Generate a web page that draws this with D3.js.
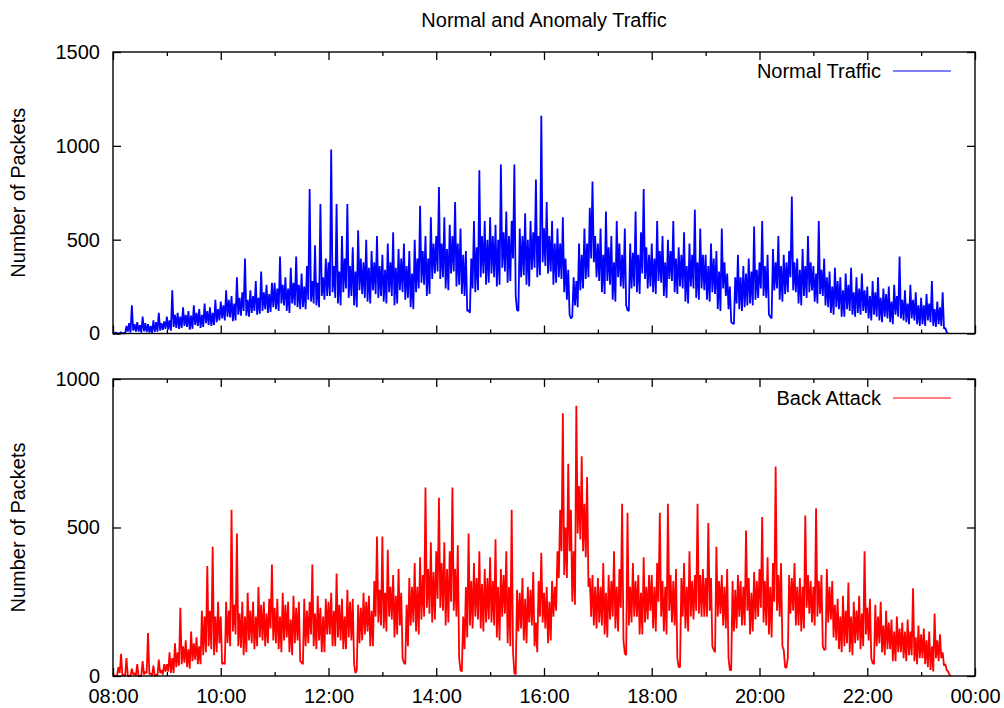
<!DOCTYPE html>
<html>
<head>
<meta charset="utf-8">
<script src="https://cdn.jsdelivr.net/npm/d3@7"></script>
<style>
body { margin: 0; background: #fff; }
text { font-family: "Liberation Sans", Arial, Helvetica, sans-serif; }
</style>
</head>
<body>
<script>
// samples every 3 minutes from 08:00, plus an in-between trough 1.5 min later
var startTime = "08:00";
var stepMinutes = 3;

// Normal traffic (packets) at hh:00, hh:03, ... one row per hour
var normalTraffic = [
  0, 5, 0, 8, 2, 40, 55, 150, 50, 60, 45, 90, 55, 50, 40, 70, 60, 110, 55, 65,
  90, 70, 230, 100, 110, 90, 140, 100, 120, 95, 150, 110, 130, 100, 160, 120, 140, 110, 180, 130,
  170, 150, 230, 180, 200, 160, 300, 190, 220, 400, 180, 230, 200, 280, 190, 330, 220, 260, 210, 270,
  270, 240, 410, 260, 300, 240, 350, 270, 410, 260, 320, 250, 360, 770, 280, 470, 270, 690, 300, 400,
  380, 980, 360, 690, 330, 520, 400, 690, 360, 460, 330, 550, 400, 380, 500, 350, 440, 380, 520, 360,
  420, 340, 480, 380, 540, 350, 450, 400, 480, 360, 440, 320, 500, 400, 680, 440, 520, 400, 620, 480,
  520, 780, 480, 620, 450, 580, 520, 700, 480, 560, 420, 440, 125, 400, 600, 460, 870, 520, 600, 500,
  620, 520, 580, 500, 900, 540, 650, 520, 600, 900, 125, 560, 520, 640, 500, 600, 540, 820, 520, 1160,
  560, 700, 520, 600, 480, 560, 480, 620, 400, 340, 80, 300, 280, 480, 420, 560, 480, 670, 810, 520,
  480, 560, 420, 650, 460, 520, 380, 600, 480, 420, 560, 125, 480, 430, 650, 420, 540, 770, 460, 420,
  480, 400, 600, 440, 520, 380, 500, 440, 600, 400, 460, 420, 540, 360, 480, 420, 660, 380, 560, 420,
  420, 360, 480, 400, 440, 330, 560, 380, 320, 250, 55, 300, 420, 300, 360, 320, 400, 330, 570, 340,
  380, 600, 360, 420, 90, 450, 380, 520, 360, 420, 380, 440, 730, 380, 400, 340, 450, 360, 520, 380,
  360, 320, 600, 340, 400, 300, 330, 250, 350, 280, 300, 230, 320, 260, 350, 220, 300, 240, 320, 230,
  250, 200, 280, 220, 300, 190, 240, 210, 250, 170, 260, 200, 410, 180, 230, 160, 260, 180, 220, 150,
  190, 150, 210, 160, 280, 130, 170, 140, 220, 30, 0
];
// Normal traffic troughs at hh:01.5, hh:04.5, ...
var normalTrafficMid = [
  0, 0, 0, 0, 0, 10, 5, 15, 10, 10, 5, 12, 8, 5, 0, 8, 10, 15, 20, 25,
  20, 15, 35, 30, 25, 30, 40, 35, 20, 25, 45, 40, 30, 35, 55, 45, 40, 45, 60, 70,
  80, 70, 90, 85, 65, 70, 100, 95, 120, 95, 90, 110, 120, 100, 105, 120, 130, 110, 115, 140,
  130, 120, 160, 150, 120, 110, 160, 150, 140, 130, 140, 130, 180, 170, 160, 150, 140, 200, 180, 200,
  200, 220, 190, 160, 150, 220, 240, 190, 200, 150, 140, 230, 210, 190, 170, 160, 230, 210, 190, 200,
  170, 160, 220, 200, 150, 160, 230, 220, 180, 190, 140, 130, 220, 240, 270, 260, 200, 210, 290, 320,
  330, 290, 300, 240, 230, 320, 330, 250, 260, 210, 200, 120, 110, 240, 220, 230, 300, 320, 260, 270,
  320, 300, 250, 260, 350, 330, 270, 280, 400, 200, 120, 300, 310, 260, 250, 340, 350, 300, 310, 380,
  360, 320, 330, 260, 270, 300, 290, 220, 180, 100, 90, 150, 140, 230, 240, 290, 300, 400, 380, 300,
  280, 220, 210, 280, 260, 180, 170, 300, 250, 240, 150, 120, 240, 250, 220, 210, 320, 290, 240, 250,
  220, 210, 280, 270, 200, 190, 290, 280, 220, 210, 250, 240, 170, 160, 250, 240, 190, 180, 240, 230,
  180, 170, 220, 210, 130, 120, 240, 200, 130, 60, 50, 160, 130, 120, 140, 150, 160, 150, 180, 190,
  240, 200, 190, 100, 80, 230, 240, 180, 170, 210, 220, 300, 230, 220, 160, 150, 200, 190, 220, 230,
  170, 160, 210, 200, 150, 140, 110, 100, 140, 130, 90, 90, 130, 120, 100, 90, 110, 100, 120, 110,
  80, 70, 100, 90, 70, 60, 90, 80, 60, 50, 100, 90, 80, 70, 60, 50, 80, 70, 50, 40,
  50, 40, 70, 60, 40, 35, 50, 40, 25, 5
];

// Back attack traffic (packets) at hh:00, hh:03, ... one row per hour
var backAttack = [
  10, 0, 30, 75, 5, 60, 0, 25, 10, 40, 0, 50, 15, 145, 10, 35, 5, 55, 20, 40,
  40, 80, 60, 110, 80, 230, 100, 120, 90, 150, 110, 130, 100, 220, 200, 370, 220, 435, 200, 250,
  200, 45, 250, 220, 560, 240, 480, 210, 250, 200, 280, 220, 250, 200, 300, 240, 250, 210, 260, 375,
  230, 260, 200, 280, 240, 250, 190, 270, 230, 250, 45, 260, 220, 250, 375, 210, 270, 230, 200, 260,
  250, 280, 220, 345, 240, 260, 200, 290, 250, 260, 10, 240, 230, 280, 250, 270, 220, 320, 470, 290,
  470, 280, 425, 300, 340, 270, 360, 280, 45, 240, 330, 300, 380, 300, 400, 340, 635, 360, 450, 350,
  420, 600, 380, 450, 360, 420, 635, 360, 440, 20, 200, 300, 480, 320, 380, 330, 420, 310, 360, 330,
  400, 320, 460, 300, 360, 340, 420, 300, 560, 10, 290, 280, 330, 260, 300, 290, 350, 180, 320, 415,
  280, 300, 250, 320, 300, 420, 560, 885, 500, 715, 560, 420, 910, 640, 740, 580, 670, 330, 340, 300,
  330, 300, 380, 280, 340, 320, 420, 300, 360, 580, 75, 550, 300, 380, 320, 340, 280, 400, 300, 340,
  340, 300, 380, 550, 320, 300, 580, 340, 320, 360, 30, 330, 380, 300, 420, 320, 340, 580, 340, 360,
  330, 515, 330, 88, 435, 320, 340, 300, 360, 20, 320, 290, 340, 320, 300, 490, 330, 280, 350, 320,
  360, 535, 320, 400, 300, 380, 705, 340, 380, 88, 27, 340, 330, 380, 300, 330, 300, 540, 340, 320,
  300, 565, 320, 340, 88, 360, 300, 320, 240, 260, 200, 270, 220, 315, 200, 250, 220, 270, 210, 420,
  230, 260, 43, 240, 200, 250, 170, 220, 180, 190, 150, 200, 160, 180, 150, 190, 150, 295, 130, 170,
  140, 160, 120, 150, 100, 210, 120, 140, 80, 40, 15, 0
];
// Back attack troughs at hh:01.5, hh:04.5, ...
var backAttackMid = [
  0, 0, 10, 0, 0, 0, 0, 5, 0, 0, 0, 5, 10, 5, 0, 0, 0, 10, 5, 15,
  15, 10, 10, 30, 35, 40, 45, 30, 25, 50, 55, 40, 40, 70, 80, 100, 90, 70, 80, 110,
  40, 40, 110, 100, 150, 140, 100, 95, 70, 80, 120, 110, 90, 100, 130, 120, 100, 110, 160, 120,
  110, 90, 80, 120, 130, 80, 70, 110, 120, 50, 40, 100, 110, 140, 100, 90, 120, 80, 80, 140,
  140, 100, 100, 130, 120, 90, 90, 130, 120, 40, 20, 110, 120, 140, 150, 100, 100, 200, 180, 170,
  160, 150, 200, 190, 130, 140, 170, 60, 40, 100, 170, 180, 150, 140, 190, 200, 230, 210, 180, 190,
  260, 230, 220, 170, 180, 250, 220, 200, 60, 15, 90, 130, 170, 160, 200, 190, 160, 150, 180, 190,
  180, 170, 130, 120, 200, 210, 110, 100, 80, 5, 150, 160, 120, 110, 180, 170, 100, 80, 200, 180,
  160, 110, 120, 200, 220, 330, 420, 340, 330, 420, 250, 240, 480, 460, 420, 400, 300, 200, 170, 160,
  180, 170, 140, 130, 190, 200, 160, 150, 230, 120, 70, 170, 180, 200, 200, 140, 140, 180, 190, 220,
  160, 150, 250, 200, 150, 140, 220, 180, 170, 60, 30, 200, 160, 150, 200, 190, 220, 210, 200, 200,
  200, 220, 100, 80, 200, 210, 170, 160, 60, 20, 150, 160, 200, 170, 170, 220, 140, 150, 190, 200,
  230, 180, 170, 140, 130, 250, 220, 200, 100, 30, 60, 210, 220, 170, 170, 150, 160, 230, 210, 180,
  170, 200, 210, 100, 90, 180, 190, 130, 120, 90, 80, 100, 110, 80, 70, 110, 120, 90, 100, 140,
  120, 60, 40, 100, 110, 80, 70, 90, 90, 50, 50, 80, 80, 60, 50, 70, 70, 50, 40, 60,
  60, 40, 30, 20, 15, 60, 50, 60, 35, 20, 5
];

var xTickLabels = ["08:00", "10:00", "12:00", "14:00", "16:00", "18:00", "20:00", "22:00", "00:00"];
var topYTicks = [0, 500, 1000, 1500];
var bottomYTicks = [0, 500, 1000];

var W = 1004, H = 708;
var left = 113, right = 975;
var fontSize = 20;

var svg = d3.select("body").append("svg")
    .attr("width", W)
    .attr("height", H);

function parseHM(s, dayOffset) {
  var p = s.split(":");
  return new Date(2000, 0, 1 + (dayOffset || 0), +p[0], +p[1]);
}
var t0 = parseHM(startTime);

// merge the on-step samples and the troughs into one time ordered series
function toSeries(values, mids) {
  var out = [];
  var step = stepMinutes * 60000;
  values.forEach(function(v, i) {
    out.push({ t: new Date(t0.getTime() + i * step), v: v });
    if (i < mids.length) out.push({ t: new Date(t0.getTime() + i * step + step / 2), v: mids[i] });
  });
  return out;
}

var x = d3.scaleTime()
    .domain([parseHM("08:00"), parseHM("00:00", 1)])
    .range([left, right]);

var majorTicks = xTickLabels.map(function(s) { return parseHM(s, s == "00:00" ? 1 : 0); });
var minorTicks = d3.timeHour.range(x.domain()[0], x.domain()[1]).filter(function(d) { return d.getHours() % 2 == 1; });

// title
svg.append("text")
    .attr("x", (left + right) / 2)
    .attr("y", 27)
    .attr("text-anchor", "middle")
    .style("font-size", "20px")
    .text("Normal and Anomaly Traffic");

function panel(opts) {
  var y = d3.scaleLinear().domain(opts.domain).range([opts.bottom, opts.top]);
  var g = svg.append("g");

  var line = d3.line()
      .x(function(d) { return x(d.t); })
      .y(function(d) { return y(d.v); });

  g.append("path")
      .datum(toSeries(opts.values, opts.mids))
      .attr("fill", "none")
      .attr("stroke", opts.color)
      .attr("stroke-width", 1.8)
      .attr("stroke-linejoin", "bevel")
      .attr("d", line);

  // x axes (ticks inward on both sides)
  g.append("g").attr("transform", "translate(0," + opts.bottom + ")")
      .call(d3.axisBottom(x).tickValues(majorTicks).tickSizeInner(-8).tickSizeOuter(0).tickPadding(13)
        .tickFormat(opts.xLabels ? function(d, i) { return xTickLabels[i]; } : function() { return ""; }));
  g.append("g").attr("transform", "translate(0," + opts.bottom + ")")
      .call(d3.axisBottom(x).tickValues(minorTicks).tickSizeInner(-4).tickSizeOuter(0).tickFormat(""));
  g.append("g").attr("transform", "translate(0," + opts.top + ")")
      .call(d3.axisTop(x).tickValues(majorTicks).tickSizeInner(-8).tickSizeOuter(0).tickFormat(""));
  g.append("g").attr("transform", "translate(0," + opts.top + ")")
      .call(d3.axisTop(x).tickValues(minorTicks).tickSizeInner(-4).tickSizeOuter(0).tickFormat(""));

  // y axes
  g.append("g").attr("transform", "translate(" + left + ",0)")
      .call(d3.axisLeft(y).tickValues(opts.yTicks).tickSizeInner(-8).tickSizeOuter(0).tickPadding(13)
        .tickFormat(d3.format("d")));
  g.append("g").attr("transform", "translate(" + right + ",0)")
      .call(d3.axisRight(y).tickValues(opts.yTicks).tickSizeInner(-8).tickSizeOuter(0).tickFormat(""));

  g.selectAll(".domain").remove();
  g.selectAll(".tick line").attr("stroke", "#000").attr("stroke-width", 1.3);
  g.selectAll(".tick text").style("font-size", fontSize + "px").attr("fill", "#000")
      .style("font-family", "'Liberation Sans', Arial, sans-serif");

  // frame
  g.append("rect")
      .attr("x", left).attr("y", opts.top)
      .attr("width", right - left).attr("height", opts.bottom - opts.top)
      .attr("fill", "none").attr("stroke", "#000").attr("stroke-width", 1.4);

  // y label
  g.append("text")
      .attr("transform", "translate(25," + (opts.top + opts.bottom) / 2 + ") rotate(-90)")
      .attr("text-anchor", "middle")
      .style("font-size", fontSize + "px")
      .text("Number of Packets");

  // legend
  g.append("text")
      .attr("x", 881).attr("y", opts.top + 26)
      .attr("text-anchor", "end")
      .style("font-size", fontSize + "px")
      .text(opts.name);
  g.append("line")
      .attr("x1", 893).attr("x2", 951)
      .attr("y1", opts.top + 19).attr("y2", opts.top + 19)
      .attr("stroke", opts.color).attr("stroke-width", 1);
}

panel({ top: 52, bottom: 333.5, domain: [0, 1500], yTicks: topYTicks, values: normalTraffic,
        mids: normalTrafficMid, color: "#0000ff", name: "Normal Traffic", xLabels: false });
panel({ top: 379, bottom: 676, domain: [0, 1000], yTicks: bottomYTicks, values: backAttack,
        mids: backAttackMid, color: "#ff0000", name: "Back Attack", xLabels: true });
</script>
</body>
</html>
